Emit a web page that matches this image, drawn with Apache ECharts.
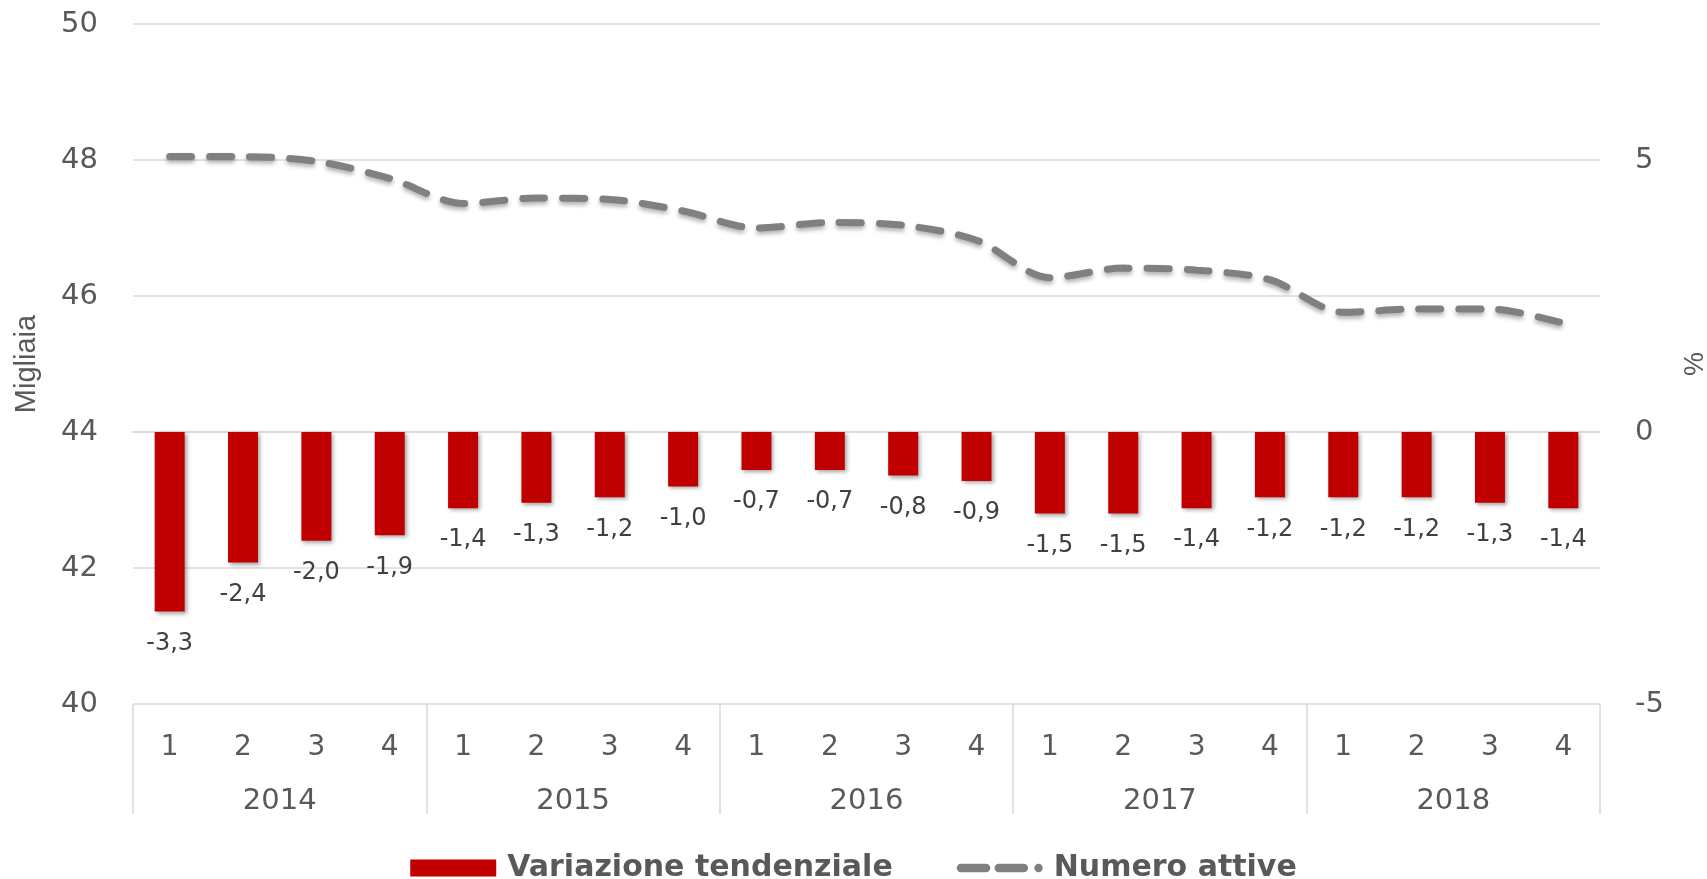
<!DOCTYPE html>
<html>
<head>
<meta charset="utf-8">
<title>Numero attive</title>
<script src="https://cdn.jsdelivr.net/npm/echarts@6/dist/echarts.min.js"></script>
<style>
  html, body { margin: 0; padding: 0; background: #fff; }
  #chart { width: 1707px; height: 879px; }
</style>
</head>
<body>
<div id="chart"></div>
<script>
// trimestri e anni
const quarters = ['1','2','3','4','1','2','3','4','1','2','3','4','1','2','3','4','1','2','3','4'];
const years = ['2014', '2015', '2016', '2017', '2018'];

// variazione tendenziale (%), asse destro
const variazione = [-3.3, -2.4, -2.0, -1.9, -1.4, -1.3, -1.2, -1.0, -0.7, -0.7, -0.8, -0.9,
  -1.5, -1.5, -1.4, -1.2, -1.2, -1.2, -1.3, -1.4];

// numero attive (migliaia), asse sinistro
const attive = [48.05, 48.05, 47.98, 47.73, 47.36, 47.44, 47.42, 47.25, 47.0, 47.08, 47.04, 46.82,
  46.27, 46.41, 46.38, 46.24, 45.76, 45.81, 45.81, 45.6];

const textColor = '#595959';
const gridColor = '#d9d9d9';

// icona legenda: due trattini e un punto
const dashIcon = 'path://M4,0h24a4,4 0 0 1 0,8h-24a4,4 0 0 1 0,-8z' +
  'M40,0h24a4,4 0 0 1 0,8h-24a4,4 0 0 1 0,-8z' +
  'M78,0a4,4 0 0 1 0,8a4,4 0 0 1 0,-8z';

const chart = echarts.init(document.getElementById('chart'));

const option = {
  animation: false,
  textStyle: { fontFamily: 'DejaVu Sans' },
  grid: { left: 133, right: 107, top: 24, bottom: 175, outerBoundsMode: 'none', containLabel: false },
  legend: {
    top: 848,
    left: 'center',
    itemWidth: 86,
    itemHeight: 17,
    itemGap: 64,
    symbolKeepAspect: true,
    textStyle: {
      fontSize: 30,
      fontWeight: 'bold',
      color: textColor,
      fontFamily: 'DejaVu Sans',
      padding: [0, 0, 0, 6]
    },
    data: [
      { name: 'Variazione tendenziale', icon: 'rect' },
      { name: 'Numero attive', icon: dashIcon, itemStyle: { color: '#808080' } }
    ]
  },
  xAxis: [
    {
      type: 'category',
      data: quarters,
      position: 'bottom',
      axisLine: { lineStyle: { color: gridColor, width: 1.5 } },
      axisTick: { show: false },
      axisLabel: { color: textColor, fontSize: 28, margin: 30, interval: 0 }
    },
    {
      type: 'category',
      data: years,
      position: 'bottom',
      axisLine: { show: false },
      axisTick: { show: true, length: 110, lineStyle: { color: gridColor, width: 1.5 } },
      axisLabel: { color: textColor, fontSize: 29, margin: 83 }
    }
  ],
  yAxis: [
    {
      type: 'value',
      min: 40,
      max: 50,
      interval: 2,
      name: 'Migliaia',
      nameLocation: 'middle',
      nameRotate: 90,
      nameGap: 92,
      nameTextStyle: { fontSize: 29, color: textColor, fontFamily: 'Liberation Sans' },
      axisLine: { show: false },
      axisTick: { show: false },
      axisLabel: { color: textColor, fontSize: 29, margin: 35 },
      splitLine: { lineStyle: { color: gridColor, width: 1.5 } }
    },
    {
      type: 'value',
      min: -5,
      max: 7.5,
      interval: 5,
      position: 'right',
      name: '%',
      nameLocation: 'middle',
      nameRotate: 90,
      nameGap: 82,
      nameTextStyle: { fontSize: 27, color: textColor, fontFamily: 'Liberation Sans' },
      axisLine: { show: false },
      axisTick: { show: false },
      axisLabel: { color: textColor, fontSize: 29, margin: 35, showMaxLabel: false },
      splitLine: { show: false }
    }
  ],
  series: [
    {
      name: 'Variazione tendenziale',
      type: 'bar',
      xAxisIndex: 0,
      yAxisIndex: 1,
      data: variazione,
      barWidth: 30,
      itemStyle: {
        color: '#c00000',
        shadowBlur: 4,
        shadowColor: 'rgba(0,0,0,0.35)',
        shadowOffsetX: 2,
        shadowOffsetY: 2
      },
      label: {
        show: true,
        position: 'bottom',
        distance: 20,
        fontSize: 24,
        color: '#404040',
        formatter: p => p.value.toFixed(1).replace('.', ',')
      }
    },
    {
      name: 'Numero attive',
      type: 'line',
      xAxisIndex: 0,
      yAxisIndex: 0,
      data: attive,
      smooth: 0.3,
      symbol: 'none',
      itemStyle: { color: '#808080' },
      lineStyle: {
        color: '#808080',
        width: 7,
        type: [22, 18],
        cap: 'round',
        shadowBlur: 4,
        shadowColor: 'rgba(0,0,0,0.3)',
        shadowOffsetY: 3
      }
    }
  ]
};

chart.setOption(option);
</script>
</body>
</html>
